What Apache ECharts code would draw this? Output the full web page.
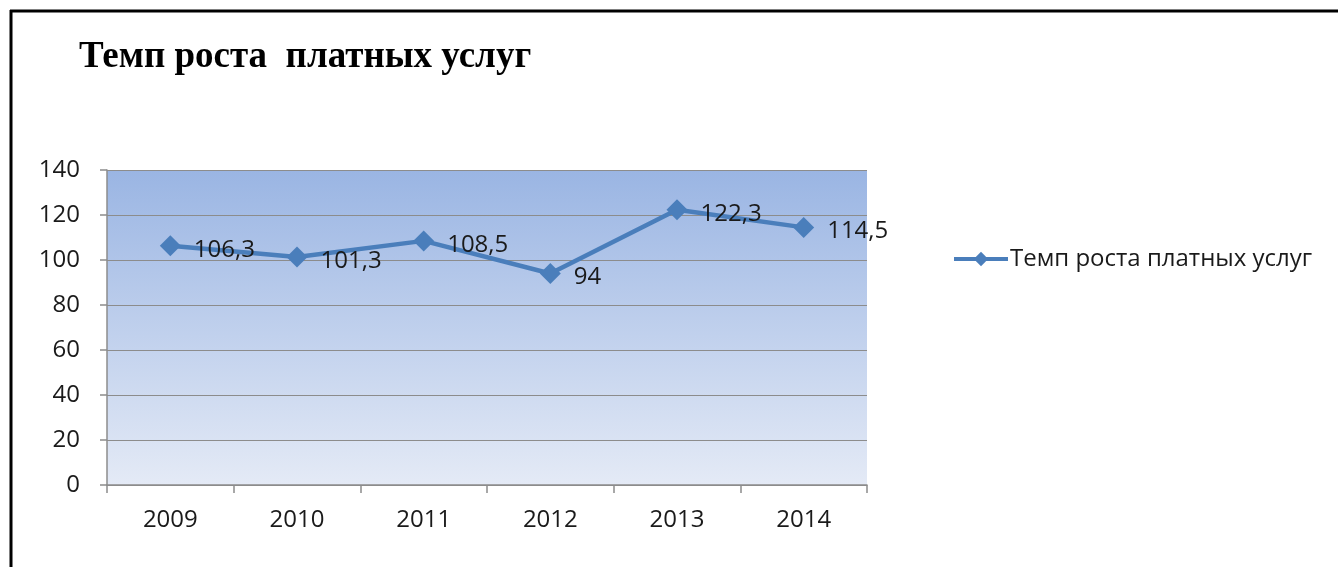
<!DOCTYPE html>
<html>
<head>
<meta charset="utf-8">
<script src="https://cdn.jsdelivr.net/npm/echarts@6/dist/echarts.min.js"></script>
<style>
html, body { margin: 0; padding: 0; background: #fff; }
#main { width: 1338px; height: 567px; }
</style>
</head>
<body>
<div id="main"></div>
<script>
var years = ['2009', '2010', '2011', '2012', '2013', '2014'];
var growth = [106.3, 101.3, 108.5, 94, 122.3, 114.5];
var seriesName = 'Темп роста платных услуг';

var myChart = echarts.init(document.getElementById('main'));
var option = {
    animation: false,
    title: {
        text: 'Темп роста  платных услуг',
        left: 74,
        top: 34,
        textStyle: {
            fontFamily: 'Liberation Serif',
            fontWeight: 'bold',
            fontSize: 37,
            color: '#000'
        }
    },
    legend: {
        left: 947,
        top: 242,
        itemWidth: 54,
        itemHeight: 18,
        lineStyle: { width: 4, color: '#4a7ebb' },
        itemStyle: { color: '#4a7ebb' },
        textStyle: { fontFamily: 'Open Sans', fontSize: 24, color: '#1a1a1a', padding: [0, 0, 0, -3] },
        data: [seriesName]
    },
    grid: {
        left: 107,
        right: 471,
        top: 170,
        bottom: 82,
        show: true,
        borderWidth: 0,
        backgroundColor: new echarts.graphic.LinearGradient(0, 0, 0, 1, [
            { offset: 0, color: '#9ab5e3' },
            { offset: 1, color: '#e4eaf6' }
        ])
    },
    xAxis: {
        type: 'category',
        data: years,
        boundaryGap: true,
        axisLine: { lineStyle: { color: '#8c8c8c', width: 1.5 } },
        axisTick: { show: true, length: 8, alignWithLabel: false, lineStyle: { color: '#8c8c8c', width: 1.5 } },
        axisLabel: { fontFamily: 'Open Sans', fontSize: 24, color: '#1a1a1a', margin: 23 }
    },
    yAxis: {
        type: 'value',
        min: 0,
        max: 140,
        interval: 20,
        axisLine: { show: true, lineStyle: { color: '#8c8c8c', width: 1.5 } },
        axisTick: { show: true, length: 7, lineStyle: { color: '#8c8c8c', width: 1.5 } },
        axisLabel: { fontFamily: 'Open Sans', fontSize: 24, color: '#1a1a1a', margin: 27 },
        splitLine: { lineStyle: { color: '#8c8c8c', width: 1.2 } }
    },
    series: [
        {
            name: seriesName,
            type: 'line',
            data: growth,
            symbol: 'diamond',
            symbolSize: 21,
            lineStyle: { color: '#4a7ebb', width: 4.5 },
            itemStyle: { color: '#4a7ebb' },
            label: {
                show: true,
                position: 'right',
                distance: 13,
                offset: [0, 4],
                fontFamily: 'Open Sans',
                fontSize: 24,
                color: '#1a1a1a',
                formatter: function (p) { return String(p.value).replace('.', ','); }
            }
        }
    ],
    graphic: [
        { type: 'line', shape: { x1: 10, y1: 11, x2: 1338, y2: 11 }, style: { stroke: '#000', lineWidth: 3 } },
        { type: 'line', shape: { x1: 11, y1: 10, x2: 11, y2: 567 }, style: { stroke: '#000', lineWidth: 3 } }
    ]
};
myChart.setOption(option);
window.addEventListener('resize', function () { myChart.resize(); })
</script>
</body>
</html>
